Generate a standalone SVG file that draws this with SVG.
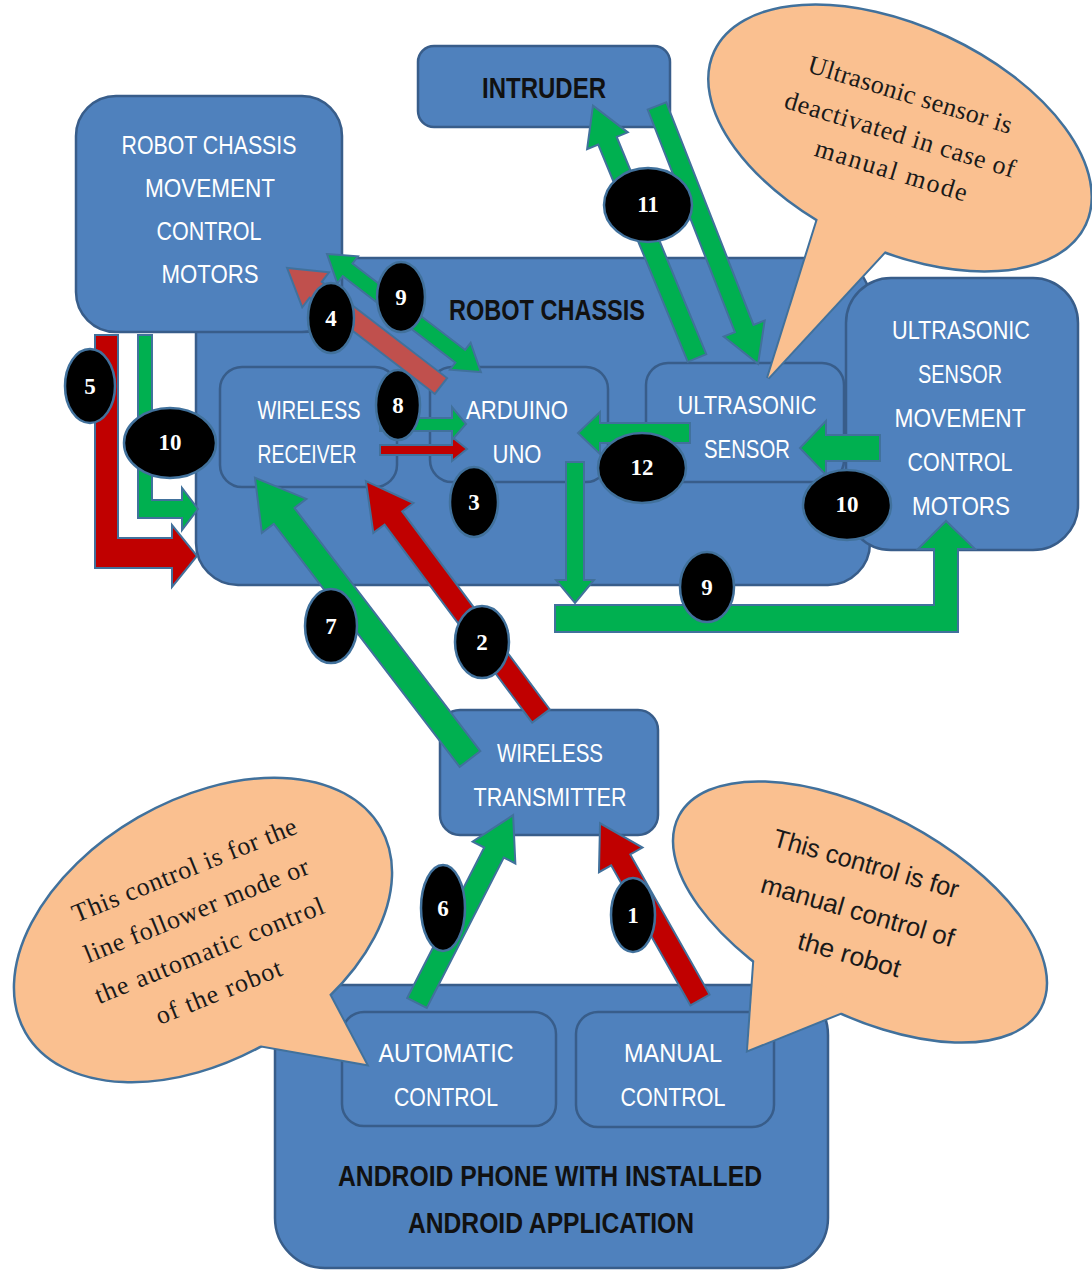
<svg xmlns="http://www.w3.org/2000/svg" width="1092" height="1270" viewBox="0 0 1092 1270">
  <style>
    .box{fill:#4F81BD;stroke:#385D8A;stroke-width:2.5}
    .lbl{font-family:"Liberation Sans",Arial,sans-serif;font-size:25px;fill:#fff;text-anchor:middle}
    .hdr{font-family:"Liberation Sans",Arial,sans-serif;font-size:29px;font-weight:bold;fill:#111;text-anchor:middle}
    .note{fill:#FAC090;stroke:#41719C;stroke-width:2.5}
    .tail{fill:#FAC090;stroke:#41719C;stroke-width:4}
    .notefill{fill:#FAC090}
    .serif{font-family:"Liberation Serif","Times New Roman",serif;font-size:26px;fill:#1a1a1a;text-anchor:middle}
    .sans{font-family:"Liberation Sans",Arial,sans-serif;font-size:26px;fill:#1a1a1a;text-anchor:middle}
    .red{fill:#C00000;stroke:#41719C;stroke-width:2}
    .green{fill:#00B050;stroke:#41719C;stroke-width:2}
    .rose{fill:#C0504D;stroke:#41719C;stroke-width:2}
    .badge ellipse{fill:#000;stroke:#41719C;stroke-width:2.5}
    .badge text{font-family:"Liberation Serif","Times New Roman",serif;font-weight:bold;font-size:23px;fill:#fff;text-anchor:middle}
  </style>

  <!-- chassis container -->
  <g id="robot-chassis">
    <rect class="box" x="196" y="258" width="674" height="327" rx="42"/>
    <text class="hdr" x="547" y="320" textLength="196" lengthAdjust="spacingAndGlyphs">ROBOT CHASSIS</text>
  </g>

  <g id="wireless-receiver">
    <rect class="box" x="220" y="367" width="177" height="120" rx="22"/>
    <text class="lbl" x="309" y="419" textLength="103" lengthAdjust="spacingAndGlyphs">WIRELESS</text>
    <text class="lbl" x="307" y="463" textLength="99" lengthAdjust="spacingAndGlyphs">RECEIVER</text>
  </g>

  <g id="arduino-uno">
    <rect class="box" x="430" y="367" width="178" height="115" rx="22"/>
    <text class="lbl" x="517" y="419" textLength="102" lengthAdjust="spacingAndGlyphs">ARDUINO</text>
    <text class="lbl" x="517" y="463" textLength="49" lengthAdjust="spacingAndGlyphs">UNO</text>
  </g>

  <g id="ultrasonic-sensor">
    <rect class="box" x="646" y="363" width="198" height="119" rx="22"/>
    <text class="lbl" x="747" y="414" textLength="139" lengthAdjust="spacingAndGlyphs">ULTRASONIC</text>
    <text class="lbl" x="747" y="458" textLength="86" lengthAdjust="spacingAndGlyphs">SENSOR</text>
  </g>

  <g id="chassis-motors">
    <rect class="box" x="76" y="96" width="266" height="236" rx="40"/>
    <text class="lbl" x="209" y="154" textLength="175" lengthAdjust="spacingAndGlyphs">ROBOT CHASSIS</text>
    <text class="lbl" x="210" y="197" textLength="130" lengthAdjust="spacingAndGlyphs">MOVEMENT</text>
    <text class="lbl" x="209" y="240" textLength="105" lengthAdjust="spacingAndGlyphs">CONTROL</text>
    <text class="lbl" x="210" y="283" textLength="97" lengthAdjust="spacingAndGlyphs">MOTORS</text>
  </g>

  <g id="sensor-motors">
    <rect class="box" x="846" y="278" width="232" height="272" rx="45"/>
    <text class="lbl" x="961" y="339" textLength="138" lengthAdjust="spacingAndGlyphs">ULTRASONIC</text>
    <text class="lbl" x="960" y="383" textLength="84" lengthAdjust="spacingAndGlyphs">SENSOR</text>
    <text class="lbl" x="960" y="427" textLength="131" lengthAdjust="spacingAndGlyphs">MOVEMENT</text>
    <text class="lbl" x="960" y="471" textLength="105" lengthAdjust="spacingAndGlyphs">CONTROL</text>
    <text class="lbl" x="961" y="515" textLength="98" lengthAdjust="spacingAndGlyphs">MOTORS</text>
  </g>

  <g id="intruder">
    <rect class="box" x="418" y="46" width="252" height="81" rx="16"/>
    <text class="hdr" x="544" y="98" textLength="124" lengthAdjust="spacingAndGlyphs">INTRUDER</text>
  </g>

  <g id="wireless-transmitter">
    <rect class="box" x="440" y="710" width="218" height="125" rx="20"/>
    <text class="lbl" x="550" y="762" textLength="106" lengthAdjust="spacingAndGlyphs">WIRELESS</text>
    <text class="lbl" x="550" y="806" textLength="153" lengthAdjust="spacingAndGlyphs">TRANSMITTER</text>
  </g>

  <g id="android-phone">
    <rect class="box" x="275" y="985" width="553" height="283" rx="50"/>
    <text class="hdr" x="550" y="1186" textLength="424" lengthAdjust="spacingAndGlyphs">ANDROID PHONE WITH INSTALLED</text>
    <text class="hdr" x="551" y="1233" textLength="286" lengthAdjust="spacingAndGlyphs">ANDROID APPLICATION</text>
  </g>

  <g id="automatic-control">
    <rect class="box" x="342" y="1012" width="214" height="114" rx="22"/>
    <text class="lbl" x="446" y="1062" textLength="135" lengthAdjust="spacingAndGlyphs">AUTOMATIC</text>
    <text class="lbl" x="446" y="1106" textLength="104" lengthAdjust="spacingAndGlyphs">CONTROL</text>
  </g>

  <g id="manual-control">
    <rect class="box" x="576" y="1012" width="198" height="115" rx="22"/>
    <text class="lbl" x="673" y="1062" textLength="98" lengthAdjust="spacingAndGlyphs">MANUAL</text>
    <text class="lbl" x="673" y="1106" textLength="105" lengthAdjust="spacingAndGlyphs">CONTROL</text>
  </g>

  <!-- speech-bubble notes: tail outline, ellipse, then tail fill to merge them -->
  <g id="note-ultrasonic">
    <polygon class="tail" points="827,190 911,223 768,378"/>
    <ellipse class="note" cx="900" cy="138" rx="205" ry="112" transform="rotate(25 900 138)"/>
    <polygon class="notefill" points="827,190 911,223 768,378"/>
    <g transform="translate(900,135) rotate(17)">
      <text class="serif" x="-2" y="-33" textLength="212" lengthAdjust="spacing">Ultrasonic sensor is</text>
      <text class="serif" x="0" y="8" textLength="240" lengthAdjust="spacing">deactivated in case of</text>
      <text class="serif" x="2" y="45" textLength="158" lengthAdjust="spacing">manual mode</text>
    </g>
  </g>

  <g id="note-automatic">
    <polygon class="tail" points="230,1040 320,977 366,1064"/>
    <ellipse class="note" cx="203" cy="930" rx="205" ry="130" transform="rotate(-30 203 930)"/>
    <polygon class="notefill" points="230,1040 320,977 366,1064"/>
    <g transform="translate(200,930) rotate(-22)">
      <text class="serif" x="8" y="-53" textLength="240" lengthAdjust="spacing">This control is for the</text>
      <text class="serif" x="4" y="-11" textLength="240" lengthAdjust="spacing">line follower mode or</text>
      <text class="serif" x="1" y="31" textLength="245" lengthAdjust="spacing">the automatic control</text>
      <text class="serif" x="-6" y="73" textLength="134" lengthAdjust="spacing">of the robot</text>
    </g>
  </g>

  <g id="note-manual">
    <polygon class="tail" points="755,950 860,1005 748,1050"/>
    <ellipse class="note" cx="860" cy="912" rx="205" ry="100" transform="rotate(28 860 912)"/>
    <polygon class="notefill" points="755,950 860,1005 748,1050"/>
    <g transform="translate(858,910) rotate(16)">
      <text class="sans" x="-5" y="-38" textLength="192" lengthAdjust="spacingAndGlyphs">This control is for</text>
      <text class="sans" x="0" y="10" textLength="200" lengthAdjust="spacingAndGlyphs">manual control of</text>
      <text class="sans" x="4" y="54" textLength="106" lengthAdjust="spacingAndGlyphs">the robot</text>
    </g>
  </g>

  <!-- block arrows; diagonal ones are drawn along +x and rotated into place -->
  <g id="connectors">
    <!-- 1: manual control -> transmitter -->
    <path class="red" transform="translate(700,1000) rotate(-119.5)" d="M0,-11 H161 V-25 L203,0 L161,25 V11 H0 Z"/>
    <!-- 2: transmitter -> receiver (manual) -->
    <path class="red" transform="translate(541,716) rotate(-126.7)" d="M0,-11 H247 V-25 L293,0 L247,25 V11 H0 Z"/>
    <!-- 3: receiver -> arduino (manual) -->
    <path class="red" d="M380,445 H452 V437 L467,449 L452,461 V455 H380 Z"/>
    <!-- 4: arduino -> chassis motors -->
    <path class="rose" transform="translate(441,386) rotate(-142.5)" d="M0,-10 H158 V-22 L194,0 L158,22 V10 H0 Z"/>
    <!-- 5: manual drive into chassis -->
    <path class="red" d="M95,335 H118 V538 H172 V525 L197,556 L172,587 V568 H95 Z"/>
    <!-- 6: automatic control -> transmitter -->
    <path class="green" transform="translate(417,1003) rotate(-62.9)" d="M0,-11 H169 V-24 L211,0 L169,24 V11 H0 Z"/>
    <!-- 7: transmitter -> receiver (automatic) -->
    <path class="green" transform="translate(470,759) rotate(-127.4)" d="M0,-13 H306 V-28 L354,0 L306,28 V13 H0 Z"/>
    <!-- 8: receiver -> arduino (automatic) -->
    <path class="green" d="M380,418 H452 V407 L466,424 L452,440 V431 H380 Z"/>
    <!-- 9: arduino <-> chassis motors -->
    <path class="green" transform="translate(327,254) rotate(37.5)" d="M0,0 L26,-17 V-8 H168 V-17 L194,0 L168,17 V8 H26 V17 Z"/>
    <!-- 9: arduino -> sensor motors -->
    <path class="green" d="M566,462 H584 V580 H594 L575,603 L556,580 H566 Z"/>
    <path class="green" d="M555,605 H934 V549 H918 L946,521 L975,549 H958 V632 H555 Z"/>
    <!-- 10: automatic drive into chassis -->
    <path class="green" d="M138,335 H152 V500 H182 V488 L198,509 L182,530 V518 H138 Z"/>
    <!-- 10: sensor motors -> ultrasonic sensor -->
    <path class="green" d="M880,435 H826 V421 L800,448 L826,475 V461 H880 Z"/>
    <!-- 11: ultrasonic sensor <-> intruder -->
    <path class="green" transform="translate(697,358) rotate(-112.4)" d="M0,-10 H235 V-22 L273,0 L235,22 V10 H0 Z"/>
    <path class="green" transform="translate(657,106) rotate(68.6)" d="M0,-10 H239 V-22 L277,0 L239,22 V10 H0 Z"/>
    <!-- 12: ultrasonic sensor -> arduino -->
    <path class="green" d="M690,423 H600 V412 L578,433 L600,454 V443 H690 Z"/>
  </g>

  <!-- step numbers -->
  <g id="step-badges" class="badge">
    <ellipse cx="633" cy="915" rx="22" ry="37"/><text x="633" y="923">1</text>
    <ellipse cx="482" cy="642" rx="27" ry="36"/><text x="482" y="650">2</text>
    <ellipse cx="474" cy="502" rx="24" ry="35"/><text x="474" y="510">3</text>
    <ellipse cx="331" cy="318" rx="23" ry="35"/><text x="331" y="326">4</text>
    <ellipse cx="90" cy="386" rx="25" ry="37"/><text x="90" y="394">5</text>
    <ellipse cx="443" cy="908" rx="22" ry="43"/><text x="443" y="916">6</text>
    <ellipse cx="331" cy="626" rx="26" ry="37"/><text x="331" y="634">7</text>
    <ellipse cx="398" cy="405" rx="22" ry="35"/><text x="398" y="413">8</text>
    <ellipse cx="401" cy="297" rx="24" ry="35"/><text x="401" y="305">9</text>
    <ellipse cx="707" cy="587" rx="27" ry="35"/><text x="707" y="595">9</text>
    <ellipse cx="170" cy="443" rx="46" ry="35"/><text x="170" y="450" font-size="20">10</text>
    <ellipse cx="847" cy="505" rx="44" ry="35"/><text x="847" y="512" font-size="20">10</text>
    <ellipse cx="648" cy="205" rx="44" ry="37"/><text x="648" y="212" font-size="20">11</text>
    <ellipse cx="642" cy="468" rx="44" ry="35"/><text x="642" y="475" font-size="20">12</text>
  </g>
</svg>
